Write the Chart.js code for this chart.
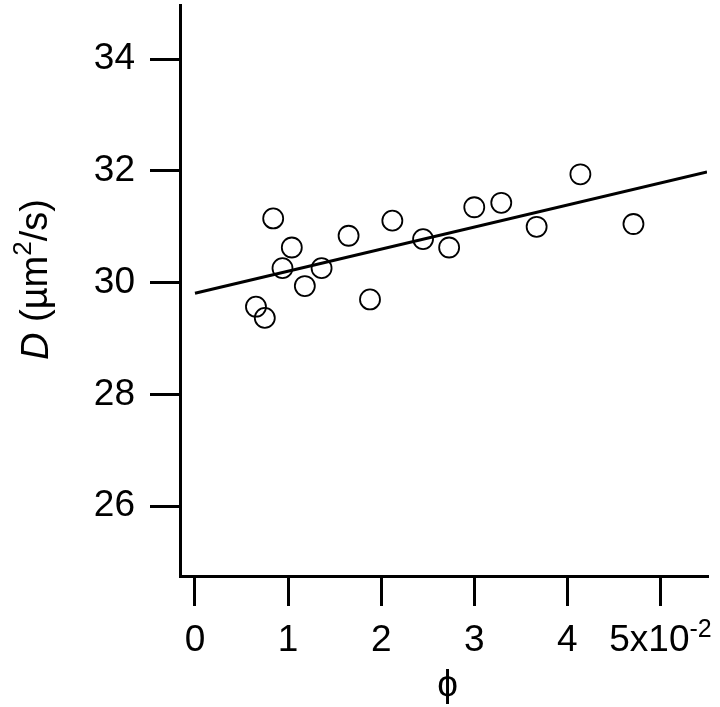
<!DOCTYPE html>
<html>
<head>
<meta charset="utf-8">
<script src="https://cdn.jsdelivr.net/npm/chart.js@4"></script>
<style>
html,body{margin:0;padding:0;background:#fff;}
canvas{display:block;}
</style>
</head>
<body>
<canvas id="c" width="720" height="707"></canvas>
<script>
const phiValues = [0.655, 0.75, 0.84, 0.94, 1.04, 1.18, 1.36, 1.65, 1.88, 2.12, 2.45, 2.73, 3.00, 3.29, 3.67, 4.14, 4.71];
const dValues   = [29.57, 29.37, 31.15, 30.26, 30.63, 29.94, 30.26, 30.84, 29.70, 31.11, 30.78, 30.63, 31.35, 31.43, 31.00, 31.94, 31.05];
const fitX = [0, 5.50];
const fitY = [29.81, 31.98];
const xTicks = [0, 1, 2, 3, 4, 5];
const xTickLabels = ['0', '1', '2', '3', '4', ''];
const lastTickBase = '5x10';
const lastTickExp = '-2';
const yTicks = [26, 28, 30, 32, 34];

const FONT = 'Liberation Sans, Arial, Helvetica, sans-serif';
const FS = 37;

const titlesPlugin = {
  id: 'titles',
  afterDraw(chart) {
    const ctx = chart.ctx;
    const ca = chart.chartArea;
    const TF = 38;
    // y title
    const pieces = [
      {t: 'D', f: 'italic ' + TF + 'px ' + FONT, dy: 0},
      {t: ' (\u00B5m', f: TF + 'px ' + FONT, dy: 0},
      {t: '2', f: '26px ' + FONT, dy: -13},
      {t: '/s)', f: TF + 'px ' + FONT, dy: 0}
    ];
    ctx.save();
    let total = 0;
    pieces.forEach(p => { ctx.font = p.f; p.w = ctx.measureText(p.t).width; total += p.w; });
    ctx.translate(37, (ca.top + ca.bottom) / 2 - 11);
    ctx.rotate(-Math.PI / 2);
    ctx.fillStyle = '#000';
    ctx.textBaseline = 'middle';
    ctx.textAlign = 'left';
    let x = -total / 2;
    pieces.forEach(p => { ctx.font = p.f; ctx.fillText(p.t, x, p.dy); x += p.w; });
    ctx.restore();
    // last x tick label with superscript exponent
    ctx.save();
    ctx.fillStyle = '#000';
    ctx.textBaseline = 'alphabetic';
    ctx.textAlign = 'left';
    const bf = FS + 'px ' + FONT, ef = '25px ' + FONT;
    ctx.font = bf; const bw = ctx.measureText(lastTickBase).width;
    ctx.font = ef; const ew = ctx.measureText(lastTickExp).width;
    const cx = chart.scales.x.getPixelForValue(5);
    let sx = cx - (bw + ew) / 2;
    ctx.font = bf; ctx.fillText(lastTickBase, sx, 651);
    ctx.font = ef; ctx.fillText(lastTickExp, sx + bw, 637);
    ctx.restore();
    // x title
    ctx.save();
    ctx.font = '37px ' + FONT;
    ctx.fillStyle = '#000';
    ctx.textAlign = 'center';
    ctx.textBaseline = 'middle';
    ctx.fillText('\u03D5', (ca.left + ca.right) / 2 + 4, 686);
    ctx.restore();
  }
};

new Chart(document.getElementById('c'), {
  type: 'scatter',
  data: {
    datasets: [
      {
        type: 'line',
        data: fitX.map((x, i) => ({x: x, y: fitY[i]})),
        borderColor: '#000',
        borderWidth: 3,
        pointRadius: 0,
        fill: false,
        tension: 0
      },
      {
        data: phiValues.map((x, i) => ({x: x, y: dValues[i]})),
        pointStyle: 'circle',
        pointRadius: 10,
        pointBorderWidth: 1.8,
        pointBorderColor: '#000',
        pointBackgroundColor: 'rgba(0,0,0,0)',
        showLine: false
      }
    ]
  },
  options: {
    responsive: false,
    animation: false,
    devicePixelRatio: 1,
    layout: {autoPadding: false, padding: {left: 0, right: 13, top: 5, bottom: 0}},
    plugins: {legend: {display: false}, tooltip: {enabled: false}},
    scales: {
      x: {
        type: 'linear',
        min: -0.161,
        max: 5.50,
        afterBuildTicks(s) { s.ticks = xTicks.map(v => ({value: v})); },
        afterFit(s) { s.height = 131; s.paddingLeft = 0; s.paddingRight = 0; },
        ticks: {
          color: '#000',
          font: {family: FONT, size: FS},
          padding: 13,
          maxRotation: 0,
          autoSkip: false,
          callback(v) { const i = xTicks.indexOf(v); return i >= 0 ? xTickLabels[i] : ''; }
        },
        grid: {drawOnChartArea: false, color: '#000', lineWidth: 3, tickLength: 30},
        border: {color: '#000', width: 3}
      },
      y: {
        type: 'linear',
        min: 24.75,
        max: 34.97,
        afterBuildTicks(s) { s.ticks = yTicks.map(v => ({value: v})); },
        afterFit(s) { s.width = 180; s.paddingTop = 0; s.paddingBottom = 0; },
        ticks: {
          color: '#000',
          font: {family: FONT, size: FS},
          padding: 15,
          autoSkip: false
        },
        grid: {drawOnChartArea: false, color: '#000', lineWidth: 3, tickLength: 30},
        border: {color: '#000', width: 3}
      }
    }
  },
  plugins: [titlesPlugin]
});
</script>
</body>
</html>
